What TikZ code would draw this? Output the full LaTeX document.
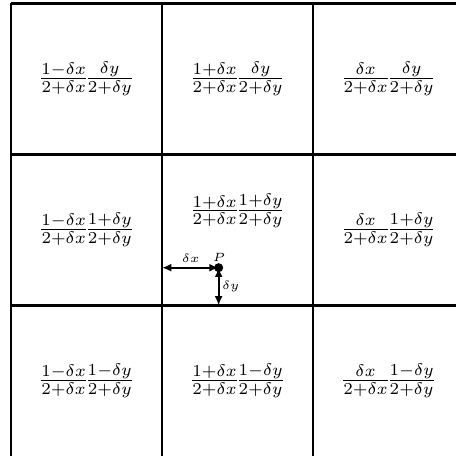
\documentclass[tikz,border=0pt]{standalone}
\usetikzlibrary{arrows.meta}
\begin{document}
\begin{tikzpicture}
\tikzset{gridline/.style={line width=0.8pt},
  dimarrow/.style={line width=0.7pt,{Latex[length=3.5pt,width=3pt]}-{Latex[length=3.5pt,width=3pt]}},
  lbl/.style={font=\tiny,inner sep=0pt},
  cell/.style={inner sep=0pt,execute at begin node={\nulldelimiterspace=0.4pt}}}
\newcommand{\cf}[1]{\scalebox{0.9}{$#1$}}
\useasboundingbox (-0.146,0.006) rectangle (5.894,6.046);
% grid lines
\draw[gridline] (0,6) -- (5.894,6);
\draw[gridline] (0,4) -- (5.894,4);
\draw[gridline] (0,2) -- (5.894,2);
\draw[gridline] (0,6) -- (0,0.006);
\draw[gridline] (2,6) -- (2,0.006);
\draw[gridline] (4,6) -- (4,0.006);
% cell texts
\node[cell] (c11) at (1,5) {\cf{\frac{1-\delta x}{2+\delta x}\frac{\delta y}{2+\delta y}}};
\node[cell] (c12) at (3,5) {\cf{\frac{1+\delta x}{2+\delta x}\frac{\delta y}{2+\delta y}}};
\node[cell] (c13) at (5,5) {\cf{\frac{\delta x}{2+\delta x}\frac{\delta y}{2+\delta y}}};
\node[cell] (c21) at (1,3) {\cf{\frac{1-\delta x}{2+\delta x}\frac{1+\delta y}{2+\delta y}}};
\node[cell] (c22) at (3,3.25) {\cf{\frac{1+\delta x}{2+\delta x}\frac{1+\delta y}{2+\delta y}}};
\node[cell] (c23) at (5,3) {\cf{\frac{\delta x}{2+\delta x}\frac{1+\delta y}{2+\delta y}}};
\node[cell] (c31) at (1,1) {\cf{\frac{1-\delta x}{2+\delta x}\frac{1-\delta y}{2+\delta y}}};
\node[cell] (c32) at (3,1) {\cf{\frac{1+\delta x}{2+\delta x}\frac{1-\delta y}{2+\delta y}}};
\node[cell] (c33) at (5,1) {\cf{\frac{\delta x}{2+\delta x}\frac{1-\delta y}{2+\delta y}}};
% point P
\coordinate (P) at (2.75,2.5);
\coordinate (L) at (2,2.5);
\coordinate (B) at (2.75,2);
\draw[dimarrow] (L) -- (P);
\draw[dimarrow] (P) -- (B);
\fill (P) circle (0.06);
\node[lbl] (dx) at (2.38,2.62) {\cf{\delta x}};
\node[lbl] (dy) at (2.91,2.245) {\cf{\delta y}};
\node[lbl] (Plabel) at (2.755,2.635) {\cf{P}};
\end{tikzpicture}
\end{document}
